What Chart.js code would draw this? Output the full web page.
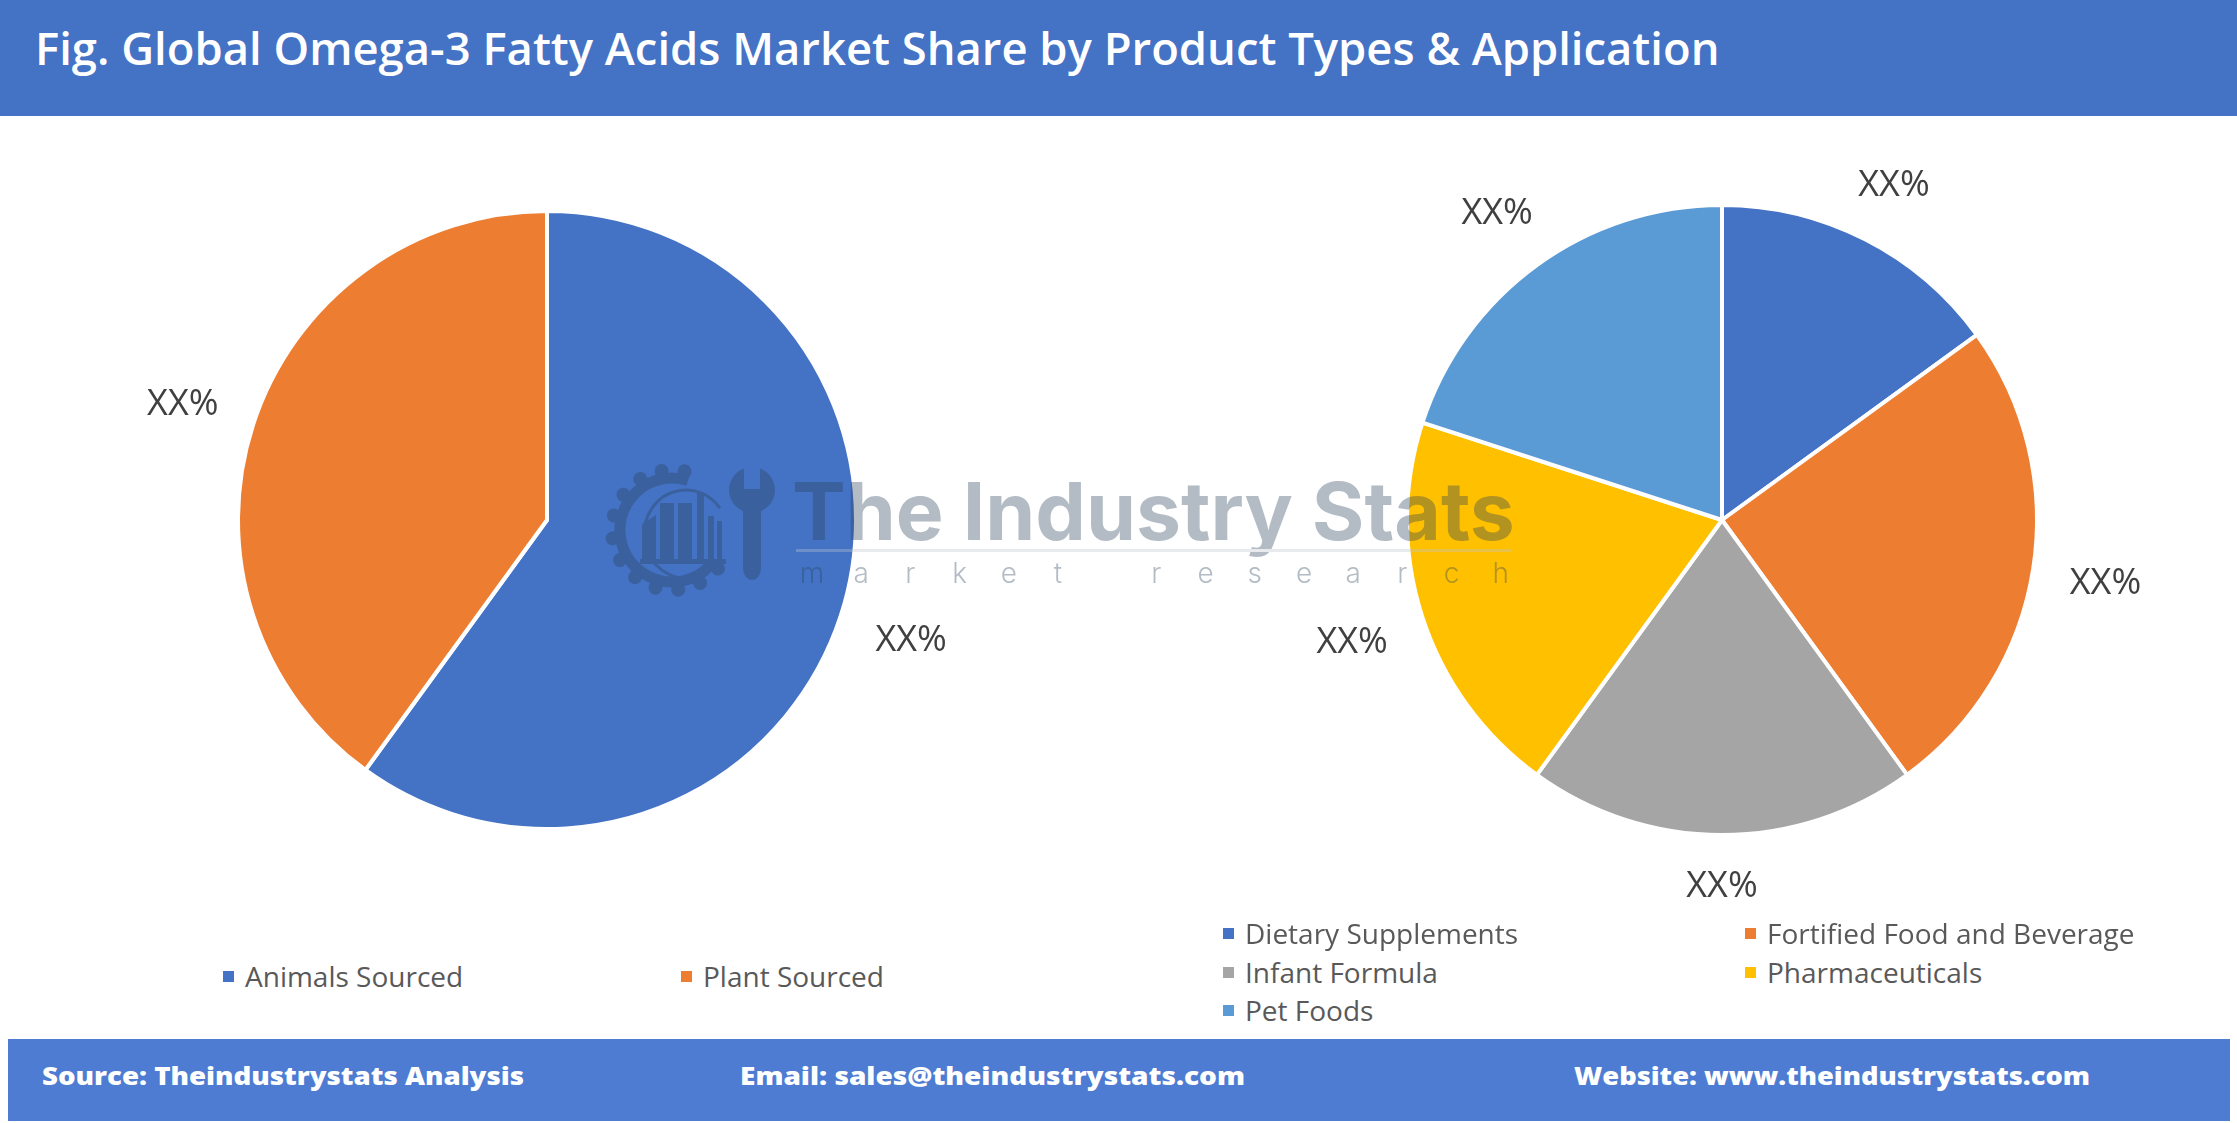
<!DOCTYPE html>
<html>
<head>
<meta charset="utf-8">
<title>Omega-3 Fatty Acids Market Share</title>
<script src="https://cdn.jsdelivr.net/npm/chart.js@4.4.1/dist/chart.umd.min.js"></script>
<style>
  html, body { margin: 0; padding: 0; background: #fff; }
  #page { position: relative; width: 2237px; height: 1123px; overflow: hidden; font-family: "Open Sans", sans-serif; }
  #header { position: absolute; left: 0; top: 0; width: 2237px; height: 116px; background: #4472C4; }
  #title { position: absolute; left: 35px; top: 27px; color: #fff; font-size: 41px; line-height: 41px; font-weight: 600; white-space: nowrap; }
  #footer { position: absolute; left: 8px; top: 1039px; width: 2222px; height: 82px; background: #4D7CD2; }
  .foot { position: absolute; top: 25px; color: #fff; font-size: 24px; line-height: 24px; font-weight: 800; white-space: nowrap; transform-origin: 0 50%; }
  canvas.pie { position: absolute; top: 120px; }
  #pie1 { left: 47px; }
  #pie2 { left: 1222px; }
  #mark { position: absolute; left: 0; top: 0; opacity: 0.35; pointer-events: none; }
  .leg { position: absolute; display: flex; align-items: center; color: #595959; font-size: 28px; line-height: 28px; white-space: nowrap; }
  .leg i { display: inline-block; width: 11px; height: 11px; margin-right: 11px; }
</style>
</head>
<body>
<div id="page">
  <div id="header"><div id="title">Fig. Global Omega-3 Fatty Acids Market Share by Product Types &amp; Application</div></div>
  <canvas id="pie1" class="pie" width="1000" height="800"></canvas>
  <canvas id="pie2" class="pie" width="1000" height="800"></canvas>
  <div id="legends"></div>
  <canvas id="mark" width="2237" height="1123"></canvas>
  <div id="footer">
    <div class="foot" data-w="482" style="left:34px">Source: Theindustrystats Analysis</div>
    <div class="foot" data-w="505" style="left:732px">Email: sales@theindustrystats.com</div>
    <div class="foot" data-w="516" style="left:1566px">Website: www.theindustrystats.com</div>
  </div>
</div>
<script>
const typeLabels = ['Animals Sourced', 'Plant Sourced'];
const typeValues = [60, 40];
const typeColors = ['#4472C4', '#ED7D31'];

const appLabels = ['Dietary Supplements', 'Fortified Food and Beverage', 'Infant Formula', 'Pharmaceuticals', 'Pet Foods'];
const appValues = [15, 25, 20, 20, 20];
const appColors = ['#4472C4', '#ED7D31', '#A5A5A5', '#FFC000', '#5B9BD5'];

const valueText = 'XX%';

// labels sit outside each slice, like excel "outside end"
const outsideLabels = {
  id: 'outsideLabels',
  afterDatasetsDraw(chart) {
    const { ctx } = chart;
    const meta = chart.getDatasetMeta(0);
    ctx.save();
    ctx.font = '36px "Open Sans"';
    ctx.fillStyle = '#404040';
    ctx.textAlign = 'center';
    ctx.textBaseline = 'alphabetic';
    const w = ctx.measureText(valueText).width;
    const capH = 26;
    meta.data.forEach(arc => {
      const { x, y, startAngle, endAngle, outerRadius } = arc.getProps(['x', 'y', 'startAngle', 'endAngle', 'outerRadius'], true);
      const mid = (startAngle + endAngle) / 2;
      const c = Math.cos(mid), s = Math.sin(mid);
      const d = outerRadius + 36 + Math.abs(c) * w / 2 + Math.abs(s) * capH / 2;
      ctx.fillText(valueText, x + c * d, y + s * d + capH / 2);
    });
    ctx.restore();
  }
};

function makePie(el, labels, values, colors, radius) {
  new Chart(el, {
    type: 'pie',
    data: {
      labels: labels,
      datasets: [{
        data: values,
        backgroundColor: colors,
        borderColor: '#ffffff',
        borderWidth: 4
      }]
    },
    options: {
      animation: false,
      responsive: false,
      radius: radius,
      plugins: {
        legend: { display: false },
        tooltip: { enabled: false }
      }
    },
    plugins: [outsideLabels]
  });
}

makePie(document.getElementById('pie1'), typeLabels, typeValues, typeColors, 309);
makePie(document.getElementById('pie2'), appLabels, appValues, appColors, 315);

// legends
function addLegend(labels, colors, xs, ys, cols) {
  const box = document.getElementById('legends');
  labels.forEach((lab, i) => {
    const d = document.createElement('div');
    d.className = 'leg';
    d.style.left = xs[i % cols] + 'px';
    d.style.top = (ys[Math.floor(i / cols)] - 14) + 'px';
    d.innerHTML = '<i style="background:' + colors[i] + '"></i>' + lab;
    box.appendChild(d);
  });
}
addLegend(typeLabels, typeColors, [223, 681], [976], 2);
addLegend(appLabels, appColors, [1223, 1745], [933, 972, 1010], 2);

// fit title and footer texts to their widths in the reference
const title = document.getElementById('title');
title.style.fontSize = (41 * 1685 / title.getBoundingClientRect().width) + 'px';
document.querySelectorAll('.foot').forEach(f => {
  const want = +f.dataset.w;
  const have = f.getBoundingClientRect().width;
  f.style.transform = 'scaleX(' + (want / have) + ')';
});

// watermark
const mk = document.getElementById('mark').getContext('2d');
const ink = 'rgb(40,65,90)';
mk.fillStyle = ink;
mk.strokeStyle = ink;

// gear
const gx = 672, gy = 530;
mk.lineWidth = 11;
mk.beginPath();
mk.arc(gx, gy, 52, Math.PI / 5, Math.PI * 1.6);
mk.stroke();
for (let a = 40; a <= 285; a += 22) {
  const r = a * Math.PI / 180;
  mk.save();
  mk.translate(gx + Math.cos(r) * 60, gy + Math.sin(r) * 60);
  mk.rotate(r);
  mk.beginPath();
  mk.arc(0, 0, 7, 0, Math.PI * 2);
  mk.fill();
  mk.restore();
}
mk.lineWidth = 3;
mk.beginPath();
mk.ellipse(gx + 14, gy + 4, 42, 44, 0, Math.PI * 0.45, Math.PI * 1.8);
mk.stroke();
// buildings
mk.beginPath();
mk.moveTo(642, 562); mk.lineTo(642, 524); mk.lineTo(656, 515); mk.lineTo(656, 562);
mk.fill();
mk.fillRect(660, 503, 14, 59);
mk.fillRect(678, 503, 14, 59);
mk.fillRect(697, 492, 7, 70);
mk.fillRect(708, 516, 6, 46);
mk.fillRect(717, 521, 5, 41);
mk.fillRect(640, 559, 86, 5);
// wrench
mk.beginPath();
mk.arc(752, 490, 23, 0, Math.PI * 2);
mk.fill();
mk.fillRect(743, 495, 18, 72);
mk.beginPath();
mk.ellipse(752, 568, 9, 12, 0, 0, Math.PI * 2);
mk.fill();
mk.globalCompositeOperation = 'destination-out';
mk.fillRect(744, 463, 16, 26);
mk.globalCompositeOperation = 'source-over';

// text
mk.font = '700 60px Inter';
const mw = mk.measureText('The Industry Stats').width;
mk.font = '700 ' + (60 * 723 / mw) + 'px Inter';
mk.textBaseline = 'alphabetic';
mk.fillText('The Industry Stats', 792, 540);
mk.fillStyle = 'rgb(190,198,205)';
mk.fillRect(796, 549, 716, 3);
mk.fillStyle = ink;
mk.font = '300 28px Inter';
mk.textAlign = 'center';
const sub = 'market research';
for (let i = 0; i < sub.length; i++) {
  mk.fillText(sub[i], 812 + i * 49.2, 583);
}
</script>
</body>
</html>
